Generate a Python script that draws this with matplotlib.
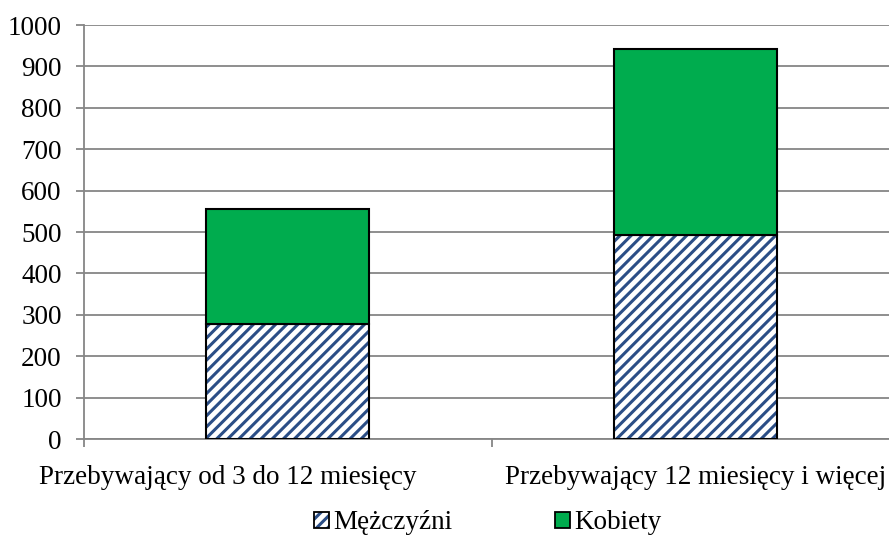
import matplotlib.pyplot as plt
import matplotlib.transforms as mtransforms
from matplotlib.patches import Patch
from matplotlib.legend_handler import HandlerTuple

categories = ['Przebywający od 3 do 12 miesięcy', 'Przebywający 12 miesięcy i więcej']
men = [278, 494]
women = [278, 448]

plt.rcParams['font.family'] = ['Liberation Serif', 'DejaVu Serif']
plt.rcParams['hatch.linewidth'] = 2.2

fig = plt.figure(figsize=(8.89, 5.39), dpi=100)
ax = fig.add_axes([0.0945, 0.1855, 0.917, 0.768])

x = range(len(categories))
w = 0.40
blue = '#2B4E86'
green = '#00AC4E'
fs = 19.5

# hatched bottom part, then outline on top
ax.bar(x, men, w, color='white', edgecolor=blue, hatch='///', linewidth=0, zorder=2)
ax.bar(x, men, w, facecolor='none', edgecolor='black', linewidth=1.5, zorder=3)
ax.bar(x, women, w, bottom=men, color=green, edgecolor='black', linewidth=1.5, zorder=3)

ax.set_xlim(-0.5, 1.5)
ax.set_ylim(0, 1000)
ax.set_yticks(range(0, 1001, 100))
ax.yaxis.grid(True, color='#868686', linewidth=1.3)
ax.set_axisbelow(True)

for s in ['top', 'right']:
    ax.spines[s].set_visible(False)
for s in ['left', 'bottom']:
    ax.spines[s].set_color('#868686')
    ax.spines[s].set_linewidth(1.3)

ax.set_xticks(list(x))
ax.set_xticklabels(categories, fontsize=fs)
ax.tick_params(axis='x', length=0, pad=19)
ax.set_xticks([-0.5, 0.5, 1.5], minor=True)
ax.tick_params(axis='x', which='minor', length=6, width=1.3, color='#868686')
ax.tick_params(axis='y', labelsize=fs, length=6, width=1.3, color='#868686', pad=10)

# first category label sits a bit left of its bar in the original
lab0 = ax.get_xticklabels()[0]
lab0.set_transform(lab0.get_transform() + mtransforms.ScaledTranslation(-0.6, 0, fig.dpi_scale_trans))

men_h = (Patch(facecolor='white', edgecolor=blue, hatch='///', linewidth=0),
         Patch(facecolor='none', edgecolor='black', linewidth=1.3))
women_h = Patch(facecolor=green, edgecolor='black', linewidth=1.3)
fig.legend([men_h, women_h], ['Mężczyźni', 'Kobiety'],
           handler_map={tuple: HandlerTuple(ndivide=1, pad=0)},
           loc='center', bbox_to_anchor=(0.549, 0.03), ncol=2,
           frameon=False, fontsize=fs, handlelength=0.55, handleheight=0.55,
           handletextpad=0.15, columnspacing=3.8)

fig.savefig('out.png', dpi=100)
